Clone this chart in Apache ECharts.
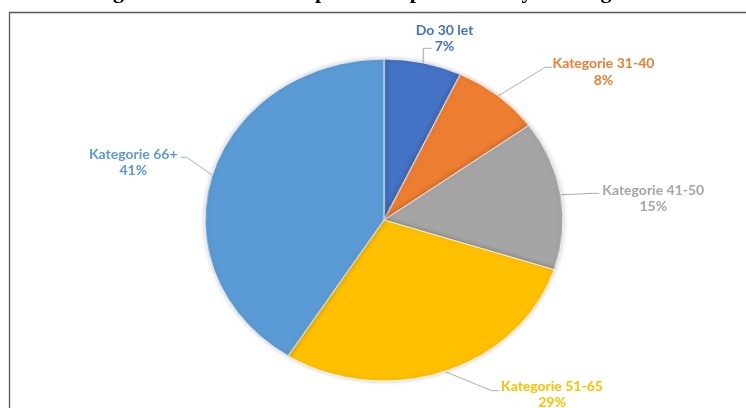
<!DOCTYPE html>
<html>
<head>
<meta charset="utf-8">
<script src="https://cdn.jsdelivr.net/npm/echarts@6/dist/echarts.min.js"></script>
<style>
  html, body { margin: 0; padding: 0; background: #fff; }
  #wrap { position: relative; width: 746px; height: 408px; overflow: hidden; }
  #pieLayer, #textLayer { position: absolute; left: 0; top: 0; width: 746px; height: 408px; }
</style>
</head>
<body>
<div id="wrap">
  <div id="pieLayer"></div>
  <div id="textLayer"></div>
</div>
<script>
// Age groups of the respondents and their share in percent
const categories = ['Do 30 let', 'Kategorie 31-40', 'Kategorie 41-50', 'Kategorie 51-65', 'Kategorie 66+'];
const shares = [7, 8, 15, 29, 41];
const sliceColors = ['#4472C4', '#ED7D31', '#A5A5A5', '#FFC000', '#5B9BD5'];
const titleText = 'Demografické rozdělení respondentů podle věkových kategorií';

// Pie geometry: the pie is drawn as a circle and stretched horizontally into an ellipse
const CX = 384, CY = 220, RY = 161, RX = 179;
const SX = RX / RY;

// Label block centres (page px) and where each leader line meets its label: [dx, dy, stub]
const labelCentres = [[444.5, 38.3], [603.5, 72.2], [653.3, 198.7], [552, 394.7], [133.3, 162.3]];
const leaderEnds = [[-12.8, 10, 8.4], [-51.8, -4.9, 6.7], [-54, -5.4, 7], [-53, -4, 7.3], [47.4, -5, 6]];

const labelFont = { fontFamily: 'Lato', fontWeight: 'bold', fontSize: 14, lineHeight: 16.5 };

// page x -> x inside the horizontally stretched pie layer
const toPieX = x => CX + (x - CX) / SX;

// mid-angle point on the rim of slice i (pie layer coordinates), used if the library gives none
function rimPoint(i) {
  const total = shares.reduce((a, b) => a + b, 0);
  let before = 0;
  for (let k = 0; k < i; k++) before += shares[k];
  const mid = (before + shares[i] / 2) / total * Math.PI * 2;
  return [CX + RY * Math.sin(mid), CY - RY * Math.cos(mid)];
}

// Layer 1: the slices and their leader lines (stretched by CSS); label text is kept invisible here
const pieEl = document.getElementById('pieLayer');
pieEl.style.transformOrigin = CX + 'px 0';
pieEl.style.transform = 'scaleX(' + SX + ')';
const pieChart = echarts.init(pieEl, null, { renderer: 'canvas' });
pieChart.setOption({
  animation: false,
  series: [{
    type: 'pie',
    center: [CX, CY],
    radius: [0, RY],
    startAngle: 90,
    clockwise: true,
    percentPrecision: 0,
    avoidLabelOverlap: false,
    silent: true,
    itemStyle: { borderColor: '#fff', borderWidth: 0.8, shadowBlur: 5, shadowColor: 'rgba(0,0,0,0.22)' },
    label: { show: true, formatter: '{b}\n{d}%', color: 'rgba(0,0,0,0)', textBorderWidth: 0, ...labelFont },
    labelLine: { show: true, length: 10, length2: 6, lineStyle: { color: '#ABABAB', width: 1 } },
    labelLayout: function (params) {
      const i = params.dataIndex;
      const start = (params.labelLinePoints && params.labelLinePoints[0]) || rimPoint(i);
      const c = labelCentres[i], e = leaderEnds[i];
      const ax = c[0] + e[0], ay = c[1] + e[1];
      const ex = ax + (e[0] < 0 ? -e[2] : e[2]);
      return {
        labelLinePoints: [[start[0], start[1]], [toPieX(ex), ay], [toPieX(ax), ay]]
      };
    },
    data: categories.map((name, i) => ({ name: name, value: shares[i], itemStyle: { color: sliceColors[i] } }))
  }]
});

// Layer 2: title, chart frame and the category labels (not stretched)
const textChart = echarts.init(document.getElementById('textLayer'), null, { renderer: 'canvas' });
textChart.setOption({
  animation: false,
  graphic: [
    {
      type: 'text', left: 58, top: -19, silent: true,
      style: { text: titleText, fill: '#000', font: 'bold 22px "Liberation Serif", "DejaVu Serif", serif' }
    },
    {
      type: 'rect', silent: true,
      shape: { x: 9.5, y: 12.5, width: 900, height: 600 },
      style: { fill: 'none', stroke: '#595959', lineWidth: 1.3 }
    }
  ],
  series: [{
    type: 'pie',
    center: [CX, CY],
    radius: [0, RY],
    startAngle: 90,
    clockwise: true,
    percentPrecision: 0,
    avoidLabelOverlap: false,
    silent: true,
    itemStyle: { color: 'rgba(0,0,0,0)' },
    label: { show: true, formatter: '{b}\n{d}%', ...labelFont },
    labelLine: { show: false },
    labelLayout: function (params) {
      const c = labelCentres[params.dataIndex];
      return { x: c[0], y: c[1], align: 'center', verticalAlign: 'middle' };
    },
    data: categories.map((name, i) => ({
      name: name,
      value: shares[i],
      label: { color: sliceColors[i] },
      itemStyle: { color: 'rgba(0,0,0,0)' }
    }))
  }]
});
</script>
</body>
</html>
